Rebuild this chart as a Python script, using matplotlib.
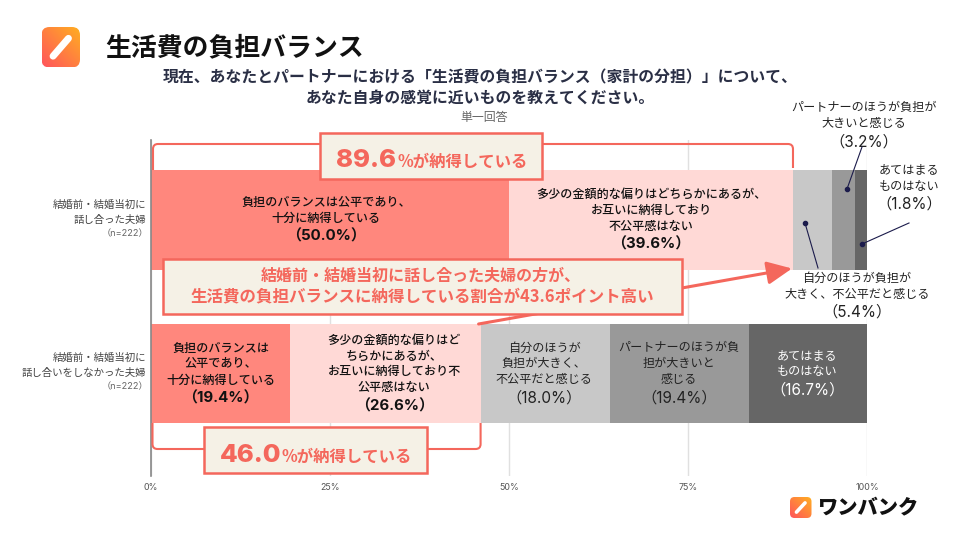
import numpy as np
import matplotlib
matplotlib.use("Agg")
import matplotlib.pyplot as plt
from matplotlib.patches import Rectangle, FancyBboxPatch, FancyArrowPatch, PathPatch
from matplotlib.path import Path

plt.rcParams['font.family'] = ['Noto Sans CJK JP', 'DejaVu Sans']
LATIN = ['Inter', 'Noto Sans CJK JP', 'DejaVu Sans']

# ---- data ----
title = "生活費の負担バランス"
subtitle = ["現在、あなたとパートナーにおける「生活費の負担バランス（家計の分担）」について、",
            "あなた自身の感覚に近いものを教えてください。"]
note = "単一回答"
groups = [["結婚前・結婚当初に", "話し合った夫婦", "（n=222）"],
          ["結婚前・結婚当初に", "話し合いをしなかった夫婦", "（n=222）"]]
values_fair = [50.0, 19.4]
values_some = [39.6, 26.6]
values_self = [5.4, 18.0]
values_partner = [3.2, 19.4]
values_none = [1.8, 16.7]
seg_values = [values_fair, values_some, values_self, values_partner, values_none]
seg_colors = ["#FF877D", "#FFD9D6", "#C8C8C8", "#999999", "#666666"]
ticks = [0, 25, 50, 75, 100]
tick_labels = ["0%", "25%", "50%", "75%", "100%"]

labels_top = [["負担のバランスは公平であり、", "十分に納得している"],
              ["多少の金額的な偏りはどちらかにあるが、", "お互いに納得しており", "不公平感はない"]]
labels_bottom = [["負担のバランスは", "公平であり、", "十分に納得している"],
                 ["多少の金額的な偏りはど", "ちらかにあるが、", "お互いに納得しており不", "公平感はない"],
                 ["自分のほうが", "負担が大きく、", "不公平だと感じる"],
                 ["パートナーのほうが負", "担が大きいと", "感じる"],
                 ["あてはまる", "ものはない"]]
agree_top = 89.6
agree_bottom = 46.0
callout = ["結婚前・結婚当初に話し合った夫婦の方が、",
           "生活費の負担バランスに納得している割合が43.6ポイント高い"]

CORAL = "#F4675C"
BOX = "#F5F1E6"
NAVY = "#1B1B4B"

W, H = 960, 540
fig = plt.figure(figsize=(W / 100, H / 100), dpi=100, facecolor="white")
L, R, T, B = 151, 867.5, 140, 476
ax = fig.add_axes([L / W, 1 - B / H, (R - L) / W, (B - T) / H])
ax.set_xlim(0, 100)
ax.set_ylim(1.668, -0.521)

left = np.zeros(2)
for vals, col in zip(seg_values, seg_colors):
    ax.barh([0, 1], vals, left=left, height=0.65, color=col, linewidth=0, zorder=2)
    left = left + np.array(vals)

ax.set_xticks(ticks)
ax.set_xticklabels(tick_labels, fontsize=6.4, color="#555555", family=LATIN)
ax.tick_params(axis='x', length=0, pad=5)
ax.set_yticks([])
ax.grid(axis='x', color="#E0E0E0", linewidth=1, zorder=0)
ax.set_axisbelow(True)
for s in ['top', 'right', 'bottom']:
    ax.spines[s].set_visible(False)
ax.spines['left'].set_color("#888888")
ax.spines['left'].set_linewidth(1.2)

PT = 0.72  # points per pixel


def at(text, x, y, dy_px, **kw):
    ax.annotate(text, xy=(x, y), xycoords='data', xytext=(kw.pop('dx', 0) * PT, -dy_px * PT),
                textcoords='offset points', ha=kw.pop('ha', 'center'), va='center', **kw)


def stack(lines, value, x, y, color="#111111", bold=True, dx=0):
    h = (len(lines) - 1) * 16 + 18
    start = -h / 2 - 0.5
    for i, ln in enumerate(lines):
        at(ln, x, y, start + i * 16, fontsize=8.7, color=color, dx=dx,
           fontweight='medium' if bold else 'normal')
    at(f"（{value:.1f}%）", x, y, start + h, fontsize=10.8 if bold else 11, color=color, dx=dx,
       fontweight='bold' if bold else 'normal', family=LATIN)


# in-bar labels
stack(labels_top[0], values_fair[0], values_fair[0] / 2, 0, dx=-4)
stack(labels_top[1], values_some[0], values_fair[0] + values_some[0] / 2, 0)
cum = 0
for i, (lines, vals) in enumerate(zip(labels_bottom, seg_values)):
    v = vals[1]
    stack(lines, v, cum + v / 2, 1, bold=i < 2,
          color="#FFFFFF" if i == 4 else ("#222222" if i >= 2 else "#111111"),
          dx=9 if i == 1 else (-1 if i in (2, 4) else 0))
    cum += v

# category labels
for i, g in enumerate(groups):
    for j, (ln, off) in enumerate(zip(g, (-15, 0, 14))):
        at(ln, 0, i, off - 0.5, dx=-5 if j < 2 else -3, ha='right', fontsize=7.5 if j < 2 else 6.6,
           color="#444444" if j < 2 else "#666666", family=LATIN if j == 2 else None)

# ---- overlay in pixel coordinates ----
ov = fig.add_axes([0, 0, 1, 1], facecolor='none')
ov.axis('off')


def xp(v):
    return ax.transData.transform((v, 0))[0]


def logo(x0, y0, x1, y1, r, lw):
    g = np.linspace(0, 1, 64)
    gx, gy = np.meshgrid(g, g)
    t = (gx + (1 - gy)) / 2
    c0, c1 = np.array([255, 84, 92]) / 255, np.array([255, 176, 32]) / 255
    img = (c0[None, None, :] * (1 - t[..., None]) + c1[None, None, :] * t[..., None])
    im = ov.imshow(img, extent=(x0, x1, y1, y0), aspect='auto', zorder=5)
    patch = FancyBboxPatch((x0 + r, y0 + r), x1 - x0 - 2 * r, y1 - y0 - 2 * r,
                           boxstyle=f"round,pad={r},rounding_size={r}",
                           transform=ov.transData, fc='none', ec='none')
    ov.add_patch(patch)
    im.set_clip_path(patch)
    w, h = x1 - x0, y1 - y0
    ov.plot([x0 + .30 * w, x0 + .70 * w], [y0 + .72 * h, y0 + .28 * h], color='white', lw=lw,
            solid_capstyle='round', zorder=6)


logo(41.5, 27, 80, 67.5, 8, 5)
logo(790, 497, 811.5, 518, 4.5, 2.6)
ov.set_xlim(0, W)
ov.set_ylim(H, 0)

ov.text(105, 48, title, fontsize=18.6, fontweight='bold', color="#111111", va='center', ha='left')
ov.text(480, 77, subtitle[0], fontsize=11.4, fontweight='bold', color="#2A2F45", va='center', ha='center')
ov.text(480, 98, subtitle[1], fontsize=11.4, fontweight='bold', color="#2A2F45", va='center', ha='center')
ov.text(484, 118, note, fontsize=8.6, color="#666666", va='center', ha='center')


def bracket(x0, x1, y_end0, y_end1, y_line, r=5):
    s = 1 if y_line > y_end0 else -1
    verts = [(x0, y_end0), (x0, y_line - s * r), (x0, y_line), (x0 + r, y_line),
             (x1 - r, y_line), (x1, y_line), (x1, y_line - s * r), (x1, y_end1)]
    codes = [Path.MOVETO, Path.LINETO, Path.CURVE3, Path.CURVE3,
             Path.LINETO, Path.CURVE3, Path.CURVE3, Path.LINETO]
    ov.add_patch(PathPatch(Path(verts, codes), fc='none', ec=CORAL, lw=1.5, zorder=3))


bracket(xp(0) + 2, xp(agree_top), 170, 168, 144)
bracket(xp(0) + 1.5, xp(agree_bottom), 423, 423, 449)

# arrow between the two totals
ov.add_patch(FancyArrowPatch((xp(agree_bottom) - 2, 324), (xp(agree_top) - 1, 268.5),
                             arrowstyle='-|>,head_length=5.4,head_width=2.5',
                             mutation_scale=2.8, shrinkA=0, shrinkB=0,
                             color=CORAL, lw=2.2, zorder=3))


def box(x0, y0, x1, y1):
    ov.add_patch(Rectangle((x0, y0), x1 - x0, y1 - y0, fc=BOX, ec=CORAL, lw=1.8, zorder=4))


box(320, 133, 541.5, 179)
box(204, 427, 427, 473)
box(163, 258.5, 681.5, 314)


def total(value, x_split, baseline):
    ov.text(x_split, baseline, f"{value:.1f}", fontsize=18.6, fontweight=800, color=CORAL,
            ha='right', va='baseline', family=['Inter', 'DejaVu Sans'], zorder=5)
    ov.text(x_split + 1, baseline, "%が納得している", fontsize=11.8, fontweight='bold', color=CORAL,
            ha='left', va='baseline', zorder=5)


total(agree_top, 396, 167)
total(agree_bottom, 281, 462)

ov.text(421, 276, callout[0], fontsize=11.5, fontweight='bold', color=CORAL, ha='center', va='center', zorder=5)
ov.text(422, 296, callout[1], fontsize=11.9, fontweight='bold', color=CORAL, ha='center', va='center', zorder=5)

# outside labels
ext = [(["パートナーのほうが負担が", "大きいと感じる"], values_partner[0], 864, 107.5),
       (["あてはまる", "ものはない"], values_none[0], 909, 170),
       (["自分のほうが負担が", "大きく、不公平だと感じる"], values_self[0], 857, 278)]
for lines, v, x, y in ext:
    for i, ln in enumerate(lines):
        ov.text(x, y + i * 16.5, ln, fontsize=8.7, color="#222222", ha='center', va='center', zorder=5)
    ov.text(x, y + 34.5, f"（{v:.1f}%）", fontsize=11, color="#222222", ha='center', va='center',
            zorder=5, family=LATIN)

# leader lines
for (x0, y0), (x1, y1) in [((847, 189), (862, 147)), ((805, 223), (818, 268)), ((862, 244), (909, 223))]:
    ov.plot([x0, x1], [y0, y1], color=NAVY, lw=0.8, zorder=6)
    ov.plot([x0], [y0], 'o', color=NAVY, ms=3, zorder=6)

ov.text(817, 507, "ワンバンク", fontsize=14.6, fontweight='black', color="#111111", ha='left', va='center', zorder=5)

fig.savefig("out.png", dpi=100)
